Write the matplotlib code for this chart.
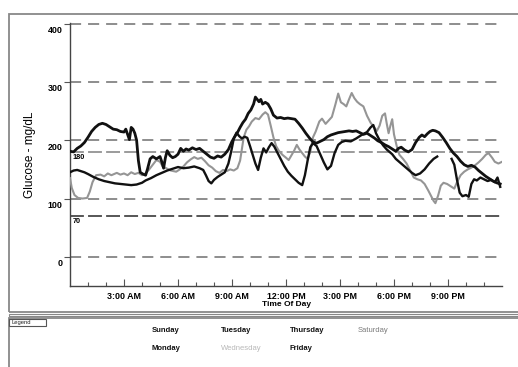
import matplotlib
matplotlib.use("Agg")
import matplotlib.pyplot as plt
import matplotlib.transforms as mtrans
from matplotlib.patches import Rectangle

plt.rcParams['font.family'] = ['Liberation Sans', 'DejaVu Sans']
plt.rcParams['lines.scale_dashes'] = False

W, H = 518, 367

# (hour of day, glucose mg/dL) readings per day
sunday = [(0.0,181),(0.2,180),(0.4,186),(0.6,190),(0.8,196),(1.0,205),(1.2,215),(1.4,222),(1.6,227),
          (1.8,229),(2.0,227),(2.2,223),(2.4,219),(2.6,218),(2.8,215),(3.0,214),(3.1,219),(3.2,210),
          (3.3,201),(3.4,222),(3.5,219),(3.6,212),(3.7,200),(3.8,165),(3.9,145),(4.05,142),(4.2,140),
          (4.3,150),(4.45,168),(4.6,172),(4.8,168),(5.0,172),(5.1,163),(5.2,152),(5.3,170),(5.4,182),
          (5.55,174),(5.7,170),(5.85,172),(6.0,176),(6.15,186),(6.3,181),(6.45,185),(6.6,183),(6.8,187),
          (7.0,184),(7.2,186),(7.4,181),(7.6,176),(7.8,171),(8.0,169),(8.2,173),(8.4,171),(8.6,176),
          (8.8,184),(9.0,198),(9.15,206),(9.3,213),(9.45,222),(9.6,230),(9.75,236),(9.9,246),(10.05,252),
          (10.2,262),(10.3,274),(10.4,270),(10.5,266),(10.6,270),(10.7,262),(10.85,265),(11.0,262),
          (11.15,254),(11.3,243),(11.5,238),(11.7,239),(11.9,237),(12.1,238),(12.3,237),(12.5,236),
          (12.7,229),(12.9,221),(13.1,212),(13.3,204),(13.5,197),(13.7,195),(13.9,198),(14.1,201),
          (14.3,206),(14.5,209),(14.7,211),(14.9,213),(15.1,214),(15.3,215),(15.5,216),(15.7,215),
          (15.9,216),(16.1,213),(16.3,210),(16.5,212),(16.7,208),(16.9,204),(17.1,199),(17.3,196),
          (17.5,192),(17.7,189),(17.9,185),(18.1,181),(18.25,186),(18.4,188),(18.6,183),(18.8,180),
          (19.0,184),(19.2,196),(19.4,205),(19.55,209),(19.7,206),(19.85,211),(20.0,215),(20.15,217),
          (20.3,216),(20.5,213),(20.7,205),(20.9,196),(21.1,186),(21.3,178),(21.5,172),(21.7,164),
          (21.9,158),(22.1,155),(22.3,157),(22.5,154),(22.7,148),(22.9,143),(23.1,138),(23.3,134),
          (23.5,130),(23.7,127),(23.9,125)]

monday = [(0.0,145),(0.2,148),(0.4,149),(0.6,147),(0.8,145),(1.0,142),(1.3,137),(1.6,133),(1.9,130),
          (2.2,128),(2.5,126),(2.8,125),(3.1,124),(3.4,123),(3.7,124),(4.0,127),(4.2,131),(4.5,135),
          (4.8,140),(5.1,144),(5.4,148),(5.7,151),(6.0,154),(6.3,152),(6.6,153),(6.9,155),(7.2,152),
          (7.4,149),(7.55,140),(7.7,130),(7.85,126),(8.0,132),(8.2,137),(8.4,141),(8.6,145),(8.8,160),
          (8.95,180),(9.1,203),(9.25,213),(9.4,207),(9.55,203),(9.7,206),(9.85,204),(10.0,190),
          (10.15,175),(10.3,160),(10.45,149),(10.6,170),(10.75,186),(10.9,179),(11.05,188),(11.2,195),
          (11.35,189),(11.5,180),(11.7,168),(11.9,156),(12.1,146),(12.3,139),(12.5,133),(12.7,127),
          (12.9,123),(13.05,140),(13.2,165),(13.35,188),(13.5,195),(13.7,190),(13.9,176),(14.1,162),
          (14.3,150),(14.5,156),(14.7,178),(14.9,192),(15.1,197),(15.3,199),(15.6,198),(15.9,203),
          (16.2,209),(16.5,214),(16.7,222),(16.85,226),(17.0,212),(17.2,200),(17.4,191),(17.6,184),
          (17.9,176),(18.1,168),(18.4,160),(18.7,152),(19.0,144),(19.2,140),(19.45,143),(19.7,150),
          (19.95,160),(20.2,168),(20.4,172)]

tuesday = [(21.2,168),(21.35,158),(21.5,132),(21.65,110),(21.8,104),(22.0,106),(22.15,103),(22.3,125),
           (22.45,133),(22.6,131),(22.8,136),(23.0,133),(23.2,130),(23.4,132),(23.6,128),(23.75,136),
           (23.9,120)]

saturday = [(0.0,135),(0.1,118),(0.25,106),(0.45,101),(0.7,100),(0.95,101),(1.1,112),(1.25,128),
            (1.45,140),(1.7,141),(1.9,138),(2.1,143),(2.3,140),(2.6,144),(2.8,141),(3.0,143),(3.2,140),
            (3.4,145),(3.6,142),(3.8,144),(4.0,140),(4.2,143),(4.4,150),(4.6,158),(4.8,166),(5.0,163),
            (5.15,155),(5.4,151),(5.6,148),(5.9,146),(6.1,150),(6.3,155),(6.5,162),(6.7,167),(6.9,171),
            (7.1,168),(7.3,170),(7.5,164),(7.7,157),(7.9,153),(8.1,147),(8.3,144),(8.5,149),(8.7,147),
            (8.9,150),(9.1,148),(9.3,152),(9.45,165),(9.55,185),(9.65,205),(9.8,218),(9.95,224),
            (10.1,232),(10.3,238),(10.5,236),(10.7,244),(10.85,248),(11.0,244),(11.15,225),(11.3,205),
            (11.45,190),(11.6,182),(11.8,175),(12.0,170),(12.15,166),(12.3,174),(12.45,182),(12.6,192),
            (12.75,184),(12.9,178),(13.05,172),(13.2,168),(13.35,180),(13.5,205),(13.65,215),(13.85,232),
            (14.0,237),(14.2,228),(14.4,235),(14.55,240),(14.75,262),(14.9,280),(15.05,265),(15.2,262),
            (15.35,258),(15.5,270),(15.65,281),(15.8,272),(15.95,266),(16.1,262),(16.3,258),(16.5,242),
            (16.7,230),(16.9,222),(17.05,216),(17.2,225),(17.35,242),(17.5,246),(17.6,228),(17.7,212),
            (17.8,225),(17.9,236),(18.0,210),(18.15,190),(18.3,175),(18.5,168),(18.7,160),(18.9,148),
            (19.1,136),(19.3,133),(19.5,131),(19.7,125),(19.9,114),(20.05,105),(20.2,96),(20.3,92),
            (20.45,105),(20.6,122),(20.75,127),(20.95,125),(21.15,121),(21.35,117),(21.5,128),(21.7,140),
            (21.9,146),(22.1,150),(22.3,153),(22.5,157),(22.7,162),(22.9,168),(23.1,175),(23.25,178),
            (23.45,170),(23.6,163),(23.8,160),(24.0,163)]

grid_levels = [0, 100, 200, 300, 400]
target_levels = [70, 180]
target_colors = ['#3a3a3a', '#8a8a8a']
hour_ticks = [3, 6, 9, 12, 15, 18, 21]
hour_labels = ['3:00 AM', '6:00 AM', '9:00 AM', '12:00 PM', '3:00 PM', '6:00 PM', '9:00 PM']

legend_days = ['Sunday', 'Monday', 'Tuesday', 'Wednesday', 'Thursday', 'Friday', 'Saturday']
legend_colors = ['#111111', '#111111', '#111111', '#b8b8b8', '#111111', '#111111', '#7a7a7a']


def px(x, y):
    return x / W, 1 - y / H


fig = plt.figure(figsize=(W / 100, H / 100), dpi=100)
fig.patch.set_facecolor('white')

# panel frames
fig.patches.append(Rectangle(px(9, 312), 1, 298 / H, transform=fig.transFigure,
                             fill=False, ec='#888888', lw=1.3))
fig.patches.append(Rectangle(px(9, 316), 1, 2 / H, transform=fig.transFigure,
                             fill=False, ec='#888888', lw=0.8))
fig.patches.append(Rectangle(px(9, 368), 1, 50 / H, transform=fig.transFigure,
                             fill=False, ec='#888888', lw=1.3))
fig.patches.append(Rectangle(px(9, 326), 37 / W, 7 / H, transform=fig.transFigure,
                             fill=False, ec='#555555', lw=0.8))
fig.text(*px(12, 322.5), 'Legend', fontsize=4.2, va='center', ha='left', color='#222222')

ax = fig.add_axes([70 / W, 1 - 286 / H, 432 / W, 263 / H])
ax.set_xlim(0, 24)
ax.set_ylim(-50, 401)

for lvl in grid_levels:
    ax.axhline(lvl, color='#7a7a7a', lw=1.2, ls=(0, (8, 5)), zorder=1)
for lvl, col in zip(target_levels, target_colors):
    ax.axhline(lvl, color=col, lw=1.2, ls=(0, (10, 3)), zorder=1)
    ax.text(0.15, lvl - 4, str(lvl), fontsize=5.2, fontweight='bold', va='top', ha='left')

for day, color, lw in [(saturday, '#959595', 1.5), (monday, '#111111', 1.7),
                       (tuesday, '#111111', 1.7), (sunday, '#111111', 2.0)]:
    t, g = zip(*day)
    ax.plot(t, g, color=color, lw=lw, zorder=3)

for side in ['top', 'right']:
    ax.spines[side].set_visible(False)
for side in ['left', 'bottom']:
    ax.spines[side].set_color('#444444')
    ax.spines[side].set_linewidth(1.0)

ax.set_yticks(grid_levels)
ax.set_yticklabels([str(v) for v in grid_levels], fontsize=6.4, fontweight='bold')
ax.tick_params(axis='y', direction='out', length=4, width=0.8, pad=1.5, color='#555555')
shift = mtrans.ScaledTranslation(0, -6 / 100, fig.dpi_scale_trans)
for lab in ax.get_yticklabels():
    lab.set_transform(lab.get_transform() + shift)

ax.set_xticks(hour_ticks)
ax.set_xticklabels(hour_labels, fontsize=6.4, fontweight='bold')
ax.set_xticks([h for h in range(1, 24) if h not in hour_ticks], minor=True)
ax.tick_params(axis='x', which='major', direction='in', length=5, width=0.8, pad=4, color='#555555')
ax.tick_params(axis='x', which='minor', direction='in', length=3, width=0.8, color='#555555')

ax.set_xlabel('Time Of Day', fontsize=6, fontweight='bold', labelpad=0)
ax.set_ylabel('Glucose - mg/dL', fontsize=8.5, labelpad=8)

# legend entries, two rows
cols_x = [152, 221, 290, 358]
rows_y = [330, 349]
for i, (name, col) in enumerate(zip(legend_days, legend_colors)):
    x = cols_x[i // 2]
    y = rows_y[i % 2]
    weight = 'bold' if col == '#111111' else 'normal'
    fig.text(*px(x, y), name, fontsize=5.5, fontweight=weight, color=col, va='center', ha='left')

fig.savefig('out.png', dpi=100)
